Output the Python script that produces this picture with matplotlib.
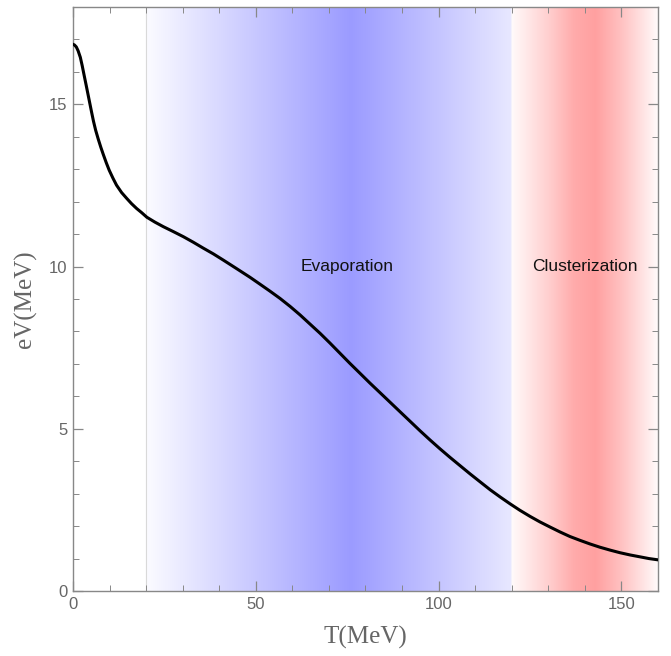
import numpy as np
import matplotlib
matplotlib.use('Agg')
import matplotlib.pyplot as plt
from matplotlib.ticker import MultipleLocator

# curve: T (MeV) vs eV (MeV)
T = [0, 0.4, 0.9, 1.4, 2.0, 2.5, 3.0, 3.6, 4.1, 4.6, 5.1, 5.6, 6.2, 6.9,
     7.6, 8.3, 9.1, 9.9, 10.9, 11.9, 13.3, 14.7, 16.0, 17.4, 18.8, 20.2,
     22.4, 24.7, 27.4, 30.2, 32.9, 35.6, 38.4, 41.1, 44.7, 48.4, 51.1, 53.9,
     56.6, 59.4, 62.1, 64.8, 67.6, 70.3, 73.0, 75.7, 78.5, 81.2, 84.0, 86.7,
     89.4, 92.2, 94.9, 97.6, 100.4, 103.1, 105.9, 108.6, 111.4, 114.1,
     116.8, 119.5, 122.2, 125.0, 127.7, 130.5, 133.2, 135.9, 138.7, 141.4,
     144.1, 146.9, 149.6, 152.4, 155.2, 157.5, 160]
eV = [16.85, 16.83, 16.77, 16.65, 16.45, 16.2, 15.92, 15.59, 15.31, 15.03,
      14.75, 14.48, 14.2, 13.93, 13.68, 13.45, 13.2, 12.97, 12.73, 12.51,
      12.28, 12.1, 11.94, 11.79, 11.66, 11.52, 11.37, 11.23, 11.08, 10.92,
      10.75, 10.57, 10.39, 10.2, 9.94, 9.67, 9.46, 9.24, 9.02, 8.77, 8.51,
      8.23, 7.94, 7.64, 7.33, 7.02, 6.71, 6.41, 6.11, 5.82, 5.53, 5.23, 4.94,
      4.66, 4.38, 4.12, 3.86, 3.61, 3.36, 3.12, 2.9, 2.69, 2.49, 2.3, 2.13,
      1.97, 1.82, 1.68, 1.56, 1.45, 1.35, 1.26, 1.18, 1.11, 1.05, 1.0, 0.96]

# shaded regions: stops along T, strength at stops, peak colour
blue_T = [20, 76, 120]
blue_f = [0.04, 1.0, 0.23]
red_T = [120, 130, 137, 143, 150, 160]
red_f = [0.05, 0.5, 0.88, 1.0, 0.65, 0.05]
blue_rgb = (155, 155, 255)
red_rgb = (255, 160, 160)

regions = ['Evaporation', 'Clusterization']
label_T = [75, 140]
label_V = [10, 10]

plt.rcParams['font.family'] = ['Liberation Sans', 'DejaVu Sans']

fig = plt.figure(figsize=(6.71, 6.56), dpi=100)
ax = fig.add_axes([0.1088, 0.0991, 0.8718, 0.8902])

# background gradient image
xs = np.linspace(0, 160, 1601)
img = np.ones((1, xs.size, 3))
for stops, f, rgb in [(blue_T, blue_f, blue_rgb), (red_T, red_f, red_rgb)]:
    inside = (xs >= stops[0]) & (xs <= stops[-1])
    s = np.interp(xs, stops, f)
    for c in range(3):
        col = 1 - s * (1 - rgb[c] / 255.0)
        img[0, inside, c] = col[inside]
ax.imshow(img, extent=[0, 160, 0, 18], aspect='auto', zorder=0,
          interpolation='bilinear')
ax.axvline(20, color='#d9d9d9', lw=0.8, zorder=1)

ax.plot(T, eV, color='black', lw=2.2, zorder=3, solid_joinstyle='round')

for name, x, y in zip(regions, label_T, label_V):
    ax.text(x, y, name, ha='center', va='center', fontsize=12.5, color='#111111')

ax.set_xlim(0, 160)
ax.set_ylim(0, 18)
ax.xaxis.set_major_locator(MultipleLocator(50))
ax.xaxis.set_minor_locator(MultipleLocator(10))
ax.yaxis.set_major_locator(MultipleLocator(5))
ax.yaxis.set_minor_locator(MultipleLocator(1))
ax.tick_params(which='both', direction='in', top=True, right=True,
               color='#888888', labelcolor='#666666', labelsize=12)
ax.tick_params(which='major', length=7, width=0.9, pad=4)
ax.tick_params(which='minor', length=4, width=0.7)
for sp in ax.spines.values():
    sp.set_color('#888888')
    sp.set_linewidth(1.0)

ax.set_xlabel('T(MeV)', family='Liberation Serif', fontsize=18, color='#666666')
ax.set_ylabel('eV(MeV)', family='Liberation Serif', fontsize=18, color='#666666')
ax.xaxis.set_label_coords(0.5, -0.06)
ax.yaxis.set_label_coords(-0.062, 0.5)

plt.savefig('out.png', dpi=100)
